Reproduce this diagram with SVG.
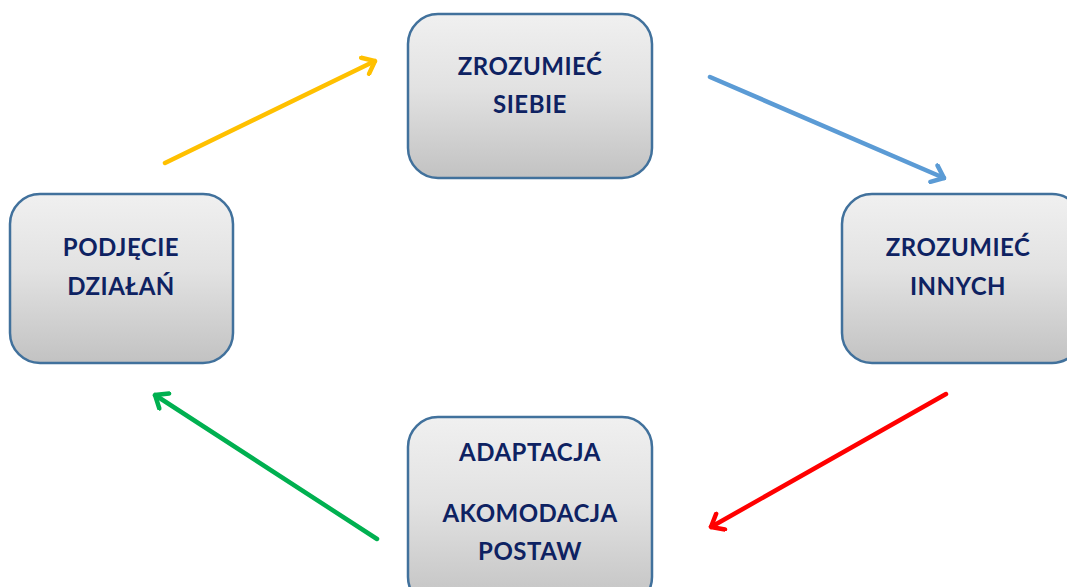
<svg xmlns="http://www.w3.org/2000/svg" width="1067" height="587" viewBox="0 0 1067 587">
<style>
.box{fill:url(#g);stroke:#41719c;stroke-width:2.5}
.t{font-family:Lato,"Open Sans","Liberation Sans",sans-serif;font-weight:bold;font-size:24px;letter-spacing:0.5px;fill:#0e2262;text-anchor:middle}
.c{fill:none;stroke-width:4.5;stroke-linecap:round}
</style>
<defs>
<linearGradient id="g" x1="0" y1="0" x2="0" y2="1">
<stop offset="0" stop-color="#f0f0f0"/>
<stop offset="0.45" stop-color="#e2e2e2"/>
<stop offset="1" stop-color="#c2c2c2"/>
</linearGradient>
<marker id="ay" viewBox="-14 -11 16 22" markerWidth="16" markerHeight="22" refX="0" refY="0" orient="auto" markerUnits="userSpaceOnUse"><path d="M-11,-9 L0,0 L-11,9" fill="none" stroke="#ffc000" stroke-width="4.5" stroke-linecap="round"/></marker>
<marker id="ab" viewBox="-14 -11 16 22" markerWidth="16" markerHeight="22" refX="0" refY="0" orient="auto" markerUnits="userSpaceOnUse"><path d="M-11,-9 L0,0 L-11,9" fill="none" stroke="#5b9bd5" stroke-width="4.5" stroke-linecap="round"/></marker>
<marker id="ar" viewBox="-14 -11 16 22" markerWidth="16" markerHeight="22" refX="0" refY="0" orient="auto" markerUnits="userSpaceOnUse"><path d="M-11,-9 L0,0 L-11,9" fill="none" stroke="#ff0000" stroke-width="4.5" stroke-linecap="round"/></marker>
<marker id="ag" viewBox="-14 -11 16 22" markerWidth="16" markerHeight="22" refX="0" refY="0" orient="auto" markerUnits="userSpaceOnUse"><path d="M-11,-9 L0,0 L-11,9" fill="none" stroke="#00b050" stroke-width="4.5" stroke-linecap="round"/></marker>
</defs>
<rect width="1067" height="587" fill="#fff"/>
<g id="connectors">
<line class="c" x1="165" y1="163" x2="375" y2="61" stroke="#ffc000" marker-end="url(#ay)"/>
<line class="c" x1="710" y1="77" x2="944" y2="178" stroke="#5b9bd5" marker-end="url(#ab)"/>
<line class="c" x1="946" y1="394" x2="711" y2="527" stroke="#ff0000" marker-end="url(#ar)"/>
<line class="c" x1="377" y1="539" x2="155" y2="395" stroke="#00b050" marker-end="url(#ag)"/>
</g>
<g id="n1">
<rect class="box" x="408" y="14" width="244" height="164" rx="30"/>
<text class="t" x="530" y="75">ZROZUMIEĆ</text>
<text class="t" x="530" y="113">SIEBIE</text>
</g>
<g id="n2">
<rect class="box" x="842" y="194" width="240" height="169" rx="30"/>
<text class="t" x="958" y="256">ZROZUMIEĆ</text>
<text class="t" x="958" y="295">INNYCH</text>
</g>
<g id="n3">
<rect class="box" x="408" y="417" width="244" height="190" rx="30"/>
<text class="t" x="530" y="461">ADAPTACJA</text>
<text class="t" x="530" y="522">AKOMODACJA</text>
<text class="t" x="530" y="560">POSTAW</text>
</g>
<g id="n4">
<rect class="box" x="10" y="194" width="223" height="169" rx="30"/>
<text class="t" x="121" y="256">PODJĘCIE</text>
<text class="t" x="121" y="295">DZIAŁAŃ</text>
</g>
</svg>
